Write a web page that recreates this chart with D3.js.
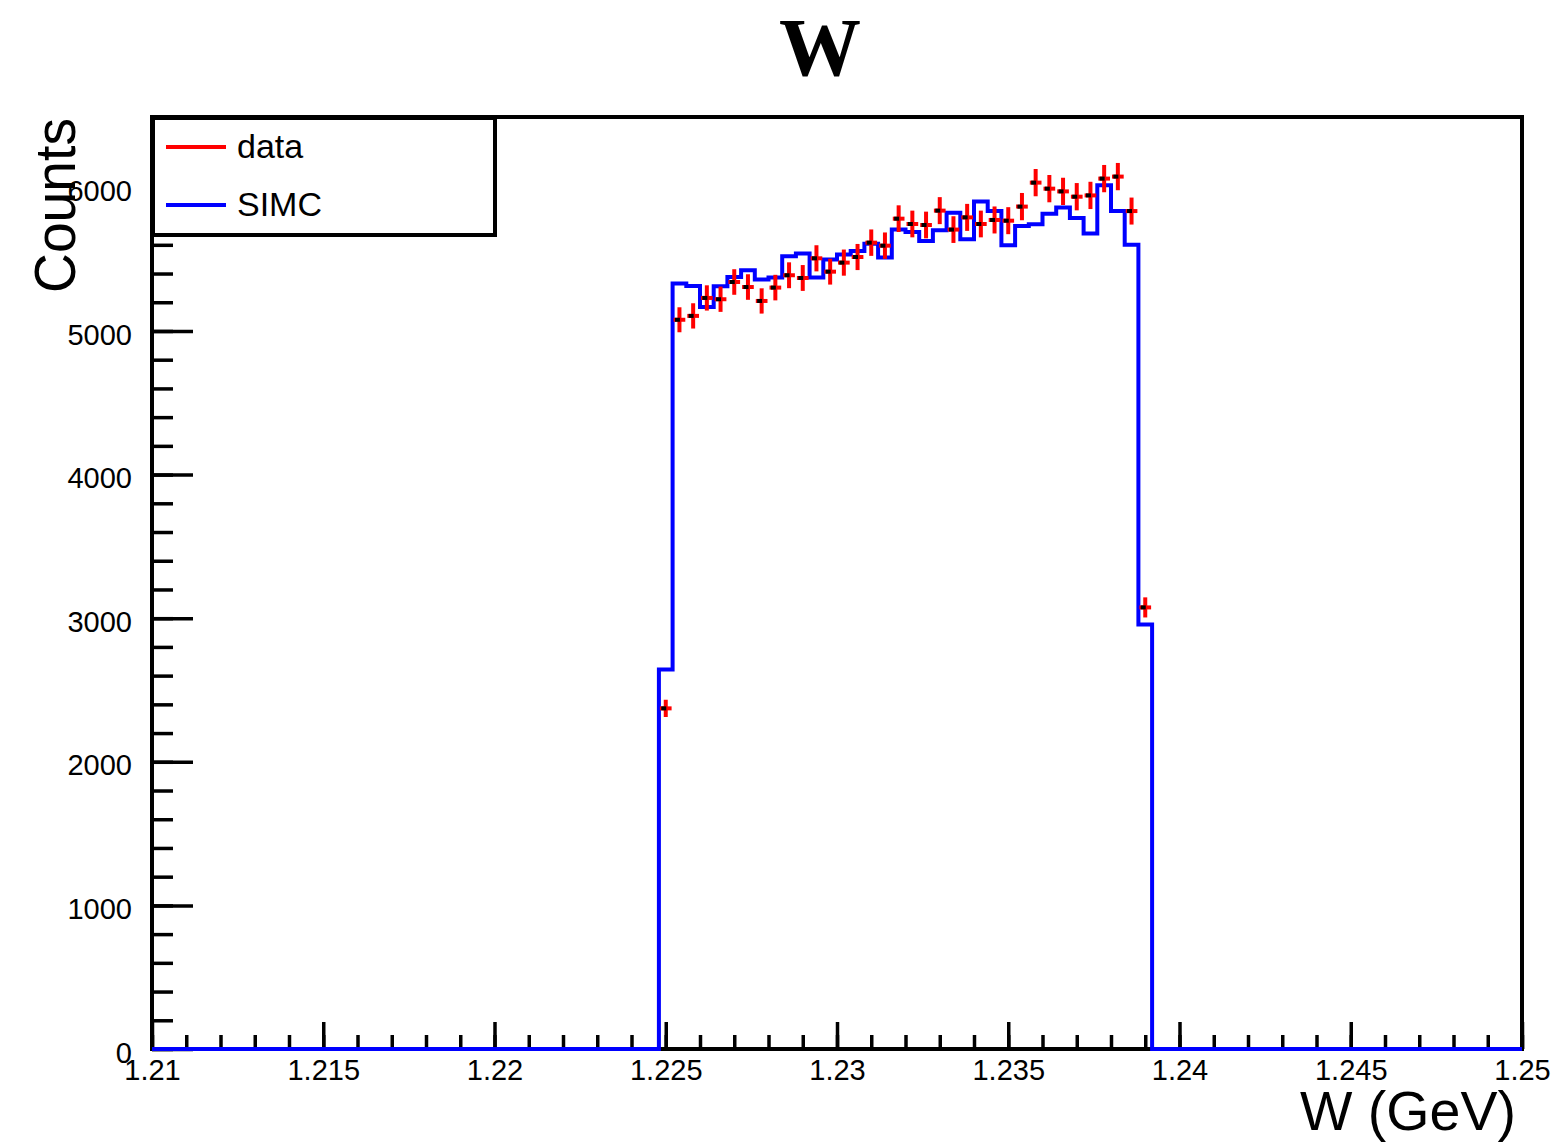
<!DOCTYPE html>
<html>
<head>
<meta charset="utf-8">
<script src="https://cdn.jsdelivr.net/npm/d3@7"></script>
<style>
  html, body { margin: 0; padding: 0; background: #ffffff; }
  svg { display: block; }
  text { font-family: "Liberation Sans", Arial, Helvetica, sans-serif; }
</style>
</head>
<body>
<svg id="chart" width="1553" height="1147"></svg>
<script>
// ---------------- data ----------------
const chartTitle = "W";
const xAxisTitle = "W (GeV)";
const yAxisTitle = "Counts";
const legendLabels = ["data", "SIMC"];

const xDomain = [1.21, 1.25];
const yDomain = [0, 6490];
const binWidth = 0.0004;          // GeV
const firstBinLow = 1.2248;       // low edge of first non-empty bin

// SIMC histogram contents (non-empty bins, starting at firstBinLow)
const simcCounts = [
  2643, 5330, 5313, 5167, 5311, 5376, 5423, 5358, 5372, 5520,
  5539, 5372, 5497, 5532, 5557, 5608, 5511, 5706, 5690, 5627,
  5701, 5824, 5638, 5901, 5835, 5597, 5731, 5743, 5817, 5859,
  5787, 5678, 6014, 5835, 5601, 2956
];

// data points (same bins)
const dataCounts = [
  2372, 5078, 5105, 5230, 5221, 5341, 5306, 5209, 5302, 5388,
  5369, 5506, 5413, 5476, 5515, 5615, 5594, 5782, 5745, 5738,
  5838, 5706, 5791, 5745, 5773, 5768, 5866, 6033, 5991, 5972,
  5935, 5944, 6061, 6075, 5835, 3075
];
const dataErrors = [
  60, 87, 88, 88, 88, 89, 89, 88, 89, 90,
  90, 91, 90, 91, 91, 92, 92, 93, 93, 93,
  94, 93, 94, 93, 94, 94, 95, 95, 95, 95,
  95, 95, 95, 95, 94, 70
];

const xTickValues = [1.21, 1.215, 1.22, 1.225, 1.23, 1.235, 1.24, 1.245, 1.25];
const xTickLabels = ["1.21", "1.215", "1.22", "1.225", "1.23", "1.235", "1.24", "1.245", "1.25"];
const yTickValues = [0, 1000, 2000, 3000, 4000, 5000, 6000];
const yTickLabels = ["0", "1000", "2000", "3000", "4000", "5000", "6000"];

// ---------------- layout ----------------
const svg = d3.select("#chart");
const frame = { left: 152, right: 1522, top: 117, bottom: 1049 };

const x = d3.scaleLinear().domain(xDomain).range([frame.left, frame.right]);
const y = d3.scaleLinear().domain(yDomain).range([frame.bottom, frame.top]);

svg.append("rect").attr("width", 1553).attr("height", 1147).attr("fill", "#fff");

// title
svg.append("text")
  .attr("x", 820).attr("y", 75)
  .attr("text-anchor", "middle")
  .style("font-family", "'Liberation Serif', 'Times New Roman', serif")
  .style("font-weight", "bold")
  .style("font-size", "82px")
  .text(chartTitle);

// frame
svg.append("rect")
  .attr("x", frame.left).attr("y", frame.top)
  .attr("width", frame.right - frame.left).attr("height", frame.bottom - frame.top)
  .attr("fill", "none").attr("stroke", "#000").attr("stroke-width", 4);

// x axis
const xMinor = d3.range(0, 41).map(i => xDomain[0] + i * 0.001);
const gxMinor = svg.append("g").attr("transform", `translate(0,${frame.bottom})`)
  .call(d3.axisBottom(x).tickValues(xMinor).tickSize(-14).tickFormat(""));
const gx = svg.append("g").attr("transform", `translate(0,${frame.bottom})`)
  .call(d3.axisBottom(x).tickValues(xTickValues).tickSize(-27).tickPadding(10)
    .tickFormat((d, i) => xTickLabels[i]));

// y axis
const yMinor = d3.range(0, 33).map(i => i * 200);
const gyMinor = svg.append("g").attr("transform", `translate(${frame.left},0)`)
  .call(d3.axisLeft(y).tickValues(yMinor).tickSize(-21).tickFormat(""));
const gy = svg.append("g").attr("transform", `translate(${frame.left},0)`)
  .call(d3.axisLeft(y).tickValues(yTickValues).tickSize(-41).tickPadding(20)
    .tickFormat((d, i) => yTickLabels[i]));

[gxMinor, gx, gyMinor, gy].forEach(g => {
  g.select(".domain").remove();
  g.selectAll(".tick line").attr("stroke", "#000").attr("stroke-width", 3.5);
  g.selectAll(".tick text")
    .attr("fill", "#000")
    .style("font-family", "'Liberation Sans', Arial, sans-serif")
    .style("font-size", "29px");
});
gy.selectAll(".tick text").attr("dy", "0.45em");
gx.selectAll(".tick text").attr("dy", "0.72em");

// axis titles
svg.append("text")
  .attr("transform", "translate(75,118) rotate(-90)")
  .attr("text-anchor", "end")
  .style("font-size", "57px")
  .attr("textLength", 175).attr("lengthAdjust", "spacingAndGlyphs")
  .text(yAxisTitle);

svg.append("text")
  .attr("x", 1516).attr("y", 1130)
  .attr("text-anchor", "end")
  .style("font-size", "55px")
  .attr("textLength", 216).attr("lengthAdjust", "spacingAndGlyphs")
  .text(xAxisTitle);

// SIMC histogram (step line)
const stepPts = [[xDomain[0], 0]];
simcCounts.forEach((v, i) => stepPts.push([firstBinLow + i * binWidth, v]));
stepPts.push([firstBinLow + simcCounts.length * binWidth, 0]);
stepPts.push([xDomain[1], 0]);
const stepLine = d3.line().x(d => x(d[0])).y(d => y(d[1])).curve(d3.curveStepAfter);
svg.append("path")
  .attr("d", stepLine(stepPts))
  .attr("fill", "none")
  .attr("stroke", "#0000ff")
  .attr("stroke-width", 4);

// data points with error bars
const pts = dataCounts.map((v, i) => ({
  lo: firstBinLow + i * binWidth,
  hi: firstBinLow + (i + 1) * binWidth,
  c: firstBinLow + (i + 0.5) * binWidth,
  v: v,
  e: dataErrors[i]
}));
const gp = svg.append("g");
gp.selectAll("line.eh").data(pts).join("line").attr("class", "eh")
  .attr("x1", d => x(d.lo) + 1).attr("x2", d => x(d.hi) - 1)
  .attr("y1", d => y(d.v)).attr("y2", d => y(d.v))
  .attr("stroke", "#ff0000").attr("stroke-width", 4);
gp.selectAll("line.ev").data(pts).join("line").attr("class", "ev")
  .attr("x1", d => x(d.c)).attr("x2", d => x(d.c))
  .attr("y1", d => y(d.v - d.e)).attr("y2", d => y(d.v + d.e))
  .attr("stroke", "#ff0000").attr("stroke-width", 4);
gp.selectAll("rect.mk").data(pts).join("rect").attr("class", "mk")
  .attr("x", d => x(d.c) - 4.5).attr("y", d => y(d.v) - 2)
  .attr("width", 5).attr("height", 4)
  .attr("fill", "#000");

// legend
const leg = svg.append("g");
leg.append("rect")
  .attr("x", 153).attr("y", 118).attr("width", 342).attr("height", 117)
  .attr("fill", "#fff").attr("stroke", "#000").attr("stroke-width", 4);
const legColors = ["#ff0000", "#0000ff"];
const legY = [147, 205];
legendLabels.forEach((lab, i) => {
  leg.append("line")
    .attr("x1", 166).attr("x2", 226).attr("y1", legY[i]).attr("y2", legY[i])
    .attr("stroke", legColors[i]).attr("stroke-width", 4);
  leg.append("text")
    .attr("x", 237).attr("y", legY[i] + 11)
    .style("font-size", "34px")
    .attr("fill", "#000")
    .text(lab);
});
</script>
</body>
</html>
